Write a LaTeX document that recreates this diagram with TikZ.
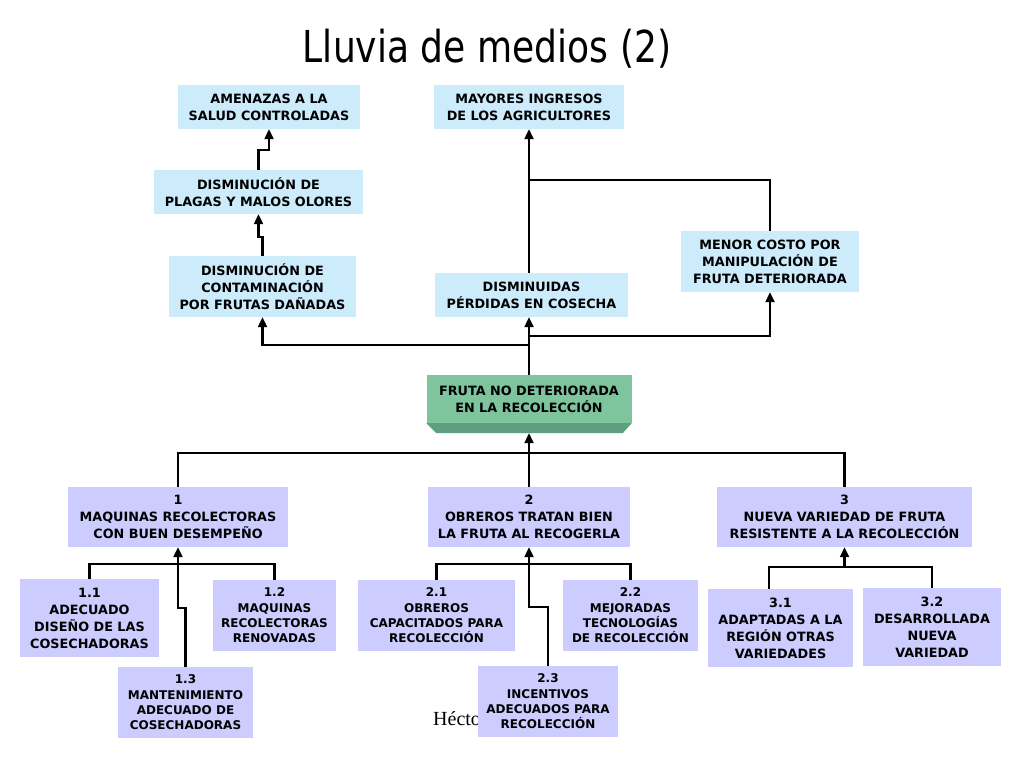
\documentclass[tikz,border=0pt]{standalone}
\usepackage{fontspec}
\setmainfont{DejaVu Sans}
\newfontfamily\titlefont[FakeStretch=0.82]{DejaVu Sans}
\newfontfamily\serifont{Liberation Serif}
\usetikzlibrary{arrows.meta,calc}
\definecolor{skyb}{HTML}{CCEBFB}
\definecolor{lav}{HTML}{CCCCFF}
\definecolor{grnf}{HTML}{7EC59E}
\definecolor{grnd}{HTML}{5E9F7D}
\tikzset{
 basebox/.style={inner sep=0pt, align=center, font=\fontsize{12.8}{17}\selectfont\bfseries},
 bluebox/.style={basebox, fill=skyb},
 lavbox/.style={basebox, fill=lav},
 smallbox/.style={lavbox, font=\fontsize{12}{15.3}\selectfont\bfseries},
 link/.style={line width=2.2pt, draw=black},
 arr/.style={link, -{Triangle[length=10pt,width=9pt]}},
}
\begin{document}
\begin{tikzpicture}[x=1pt,y=-1pt]
\useasboundingbox[fill=white] (0,0) rectangle (1024,768);
% title
\node[font=\titlefont\fontsize{44}{44}\selectfont, anchor=base] (title) at (487,63) {Lluvia de medios (2)};
% top boxes
\node[bluebox, minimum width=182pt, minimum height=44pt] (am) at (269,107) {AMENAZAS A LA\\SALUD CONTROLADAS};
\node[bluebox, minimum width=190pt, minimum height=44pt] (ma) at (529,107) {MAYORES INGRESOS\\DE LOS AGRICULTORES};
\node[bluebox, minimum width=209pt, minimum height=44pt] (pl) at (258.5,192) {DISMINUCIÓN DE\\PLAGAS Y MALOS OLORES};
\node[bluebox, minimum width=187pt, minimum height=61pt] (co) at (262.5,286.5) {DISMINUCIÓN DE\\CONTAMINACIÓN\\POR FRUTAS DAÑADAS};
\node[bluebox, minimum width=193pt, minimum height=44pt] (di) at (531.5,295) {DISMINUIDAS\\PÉRDIDAS EN COSECHA};
\node[bluebox, minimum width=178pt, minimum height=61pt] (me) at (770,261.5) {MENOR COSTO POR\\MANIPULACIÓN DE\\FRUTA DETERIORADA};
% central box
\node[basebox, fill=grnf, minimum width=205pt, minimum height=48pt] (fr) at (529,399) {FRUTA NO DETERIORADA\\EN LA RECOLECCIÓN};
\fill[grnd] (fr.south west) -- (fr.south east) -- ($(fr.south east)+(-9,10)$) -- ($(fr.south west)+(10,10)$) -- cycle;
\coordinate (frb) at ($(fr.south)+(0,10)$);
% level 1
\node[lavbox, minimum width=220pt, minimum height=60pt] (b1) at (178,517) {1\\MAQUINAS RECOLECTORAS\\CON BUEN DESEMPEÑO};
\node[lavbox, minimum width=202pt, minimum height=60pt] (b2) at (529,517) {2\\OBREROS TRATAN BIEN\\LA FRUTA AL RECOGERLA};
\node[lavbox, minimum width=255pt, minimum height=60pt] (b3) at (844.5,517) {3\\NUEVA VARIEDAD DE FRUTA\\RESISTENTE A LA RECOLECCIÓN};
% level 2
\node[lavbox, minimum width=139pt, minimum height=78pt] (b11) at (89.5,618) {1.1\\ADECUADO\\DISEÑO DE LAS\\COSECHADORAS};
\node[smallbox, minimum width=123pt, minimum height=71pt] (b12) at (274.5,615.5) {1.2\\MAQUINAS\\RECOLECTORAS\\RENOVADAS};
\node[smallbox, minimum width=135pt, minimum height=71pt] (b13) at (185.5,702.5) {1.3\\MANTENIMIENTO\\ADECUADO DE\\COSECHADORAS};
\node[smallbox, minimum width=157pt, minimum height=71pt] (b21) at (436.5,615.5) {2.1\\OBREROS\\CAPACITADOS PARA\\RECOLECCIÓN};
\node[smallbox, minimum width=135pt, minimum height=71pt] (b22) at (630.5,615.5) {2.2\\MEJORADAS\\TECNOLOGÍAS\\DE RECOLECCIÓN};
\node[font=\serifont\fontsize{20}{20}\selectfont, anchor=base west, inner sep=0pt] (hec) at (433,725) {Héctor};
\node[smallbox, minimum width=140pt, minimum height=71pt] (b23) at (548,701.5) {2.3\\INCENTIVOS\\ADECUADOS PARA\\RECOLECCIÓN};
\node[lavbox, minimum width=145pt, minimum height=78pt] (b31) at (780.5,628) {3.1\\ADAPTADAS A LA\\REGIÓN OTRAS\\VARIEDADES};
\node[lavbox, minimum width=138pt, minimum height=78pt] (b32) at (932,627) {3.2\\DESARROLLADA\\NUEVA\\VARIEDAD};
% top connectors
\draw[arr] (fr.north) -- (fr.north |- di.south);
\draw[arr] (fr.north |- 0,345) -| (co.south);
\draw[arr] (fr.north |- 0,336) -| (me.south);
\draw[arr] (fr.north |- di.north) -- (fr.north |- ma.south);
\draw[link] (me.north) |- (fr.north |- 0,180);
\draw[arr] (co.north) |- (pl.south |- 0,237) -- (pl.south);
\draw[arr] (pl.north) |- (am.south |- 0,150) -- (am.south);
% bottom connectors
\draw[link] (b1.north) |- (b3.north |- 0,453) -- (b3.north);
\draw[arr] (b2.north) -- (frb);
\draw[link] (b11.north) |- (b12.north |- 0,564) -- (b12.north);
\draw[arr] (b13.north) |- (b1.south |- 0,608) -- (b1.south);
\draw[link] (b21.north) |- (b22.north |- 0,564) -- (b22.north);
\draw[arr] (b23.north) |- (b2.south |- 0,607) -- (b2.south);
\draw[link] ($(b31.north)+(-11.5,0)$) |- (b32.north |- 0,567) -- (b32.north);
\draw[arr] (b3.south |- 0,567) -- (b3.south);
\end{tikzpicture}
\end{document}
